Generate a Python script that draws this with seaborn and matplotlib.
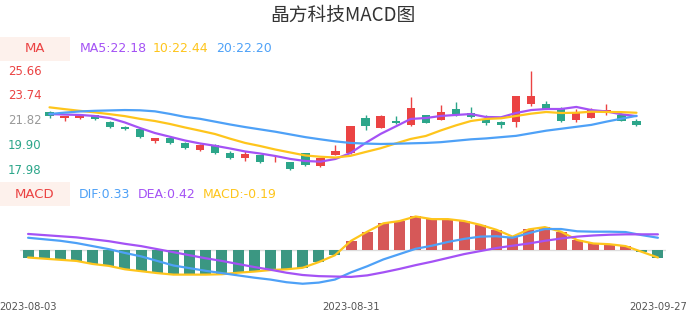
import matplotlib
matplotlib.use("Agg")
import matplotlib.pyplot as plt
import seaborn as sns
import numpy as np
import pandas as pd
from matplotlib.patches import Rectangle

sns.set_theme(style="white")
plt.rcParams['font.family'] = ['DejaVu Sans']

# ---------------- data ----------------
title = "晶方科技MACD图"
tick_idx = [0, 20, 39]
tick_labels = ["2023-08-03", "2023-08-31", "2023-09-27"]

opens = [22.50, 22.01, 22.07, 22.27, 21.75, 21.31, 21.16, 20.27, 20.46, 20.07,
         19.55, 19.94, 19.30, 18.96, 19.14, 18.82, 18.62, 19.30, 18.29, 19.19,
         19.30, 22.03, 21.28, 21.80, 21.47, 22.27, 21.90, 22.76, 22.45, 21.98,
         21.72, 21.72, 23.14, 23.12, 22.76, 21.86, 22.03, 22.40, 22.24, 21.80]
closes = [22.15, 22.19, 22.27, 21.93, 21.31, 21.16, 20.54, 20.46, 20.12, 19.69,
          19.92, 19.30, 18.91, 19.24, 18.62, 18.85, 18.10, 18.41, 18.93, 19.48,
          21.39, 21.41, 22.19, 21.65, 22.81, 21.67, 22.50, 22.37, 22.11, 21.67,
          21.51, 23.72, 23.74, 22.76, 21.80, 22.42, 22.63, 22.65, 21.82, 21.47]
highs = [22.55, 22.22, 22.30, 22.30, 21.78, 21.38, 21.20, 20.48, 20.55, 20.14,
         20.00, 20.00, 19.44, 19.45, 19.17, 19.09, 18.66, 19.35, 18.96, 19.92,
         21.42, 22.30, 22.25, 22.17, 23.69, 22.30, 23.07, 23.27, 22.89, 22.24,
         21.82, 23.76, 25.66, 23.38, 22.89, 22.76, 22.79, 23.12, 22.45, 21.99]
lows = [22.05, 21.83, 21.98, 21.88, 21.28, 21.12, 20.50, 20.07, 19.98, 19.64,
        19.50, 19.26, 18.86, 18.72, 18.58, 18.62, 17.98, 18.33, 18.24, 19.15,
        19.28, 21.13, 21.25, 21.57, 21.41, 21.62, 21.87, 22.22, 22.07, 21.50,
        21.22, 21.36, 22.94, 22.72, 21.76, 21.72, 22.00, 22.30, 21.78, 21.44]

ma5 = [22.34, 22.30, 22.27, 22.19, 22.03, 21.69, 21.26, 20.87, 20.58, 20.29,
       20.06, 19.88, 19.67, 19.44, 19.28, 19.09, 18.86, 18.70, 18.65, 18.86,
       19.32, 20.10, 20.80, 21.38, 21.96, 22.03, 22.19, 22.27, 22.34, 22.11,
       22.09, 22.42, 22.65, 22.73, 22.73, 22.89, 22.65, 22.54, 22.32, 22.18]
ma10 = [22.86, 22.72, 22.59, 22.47, 22.33, 22.18, 21.97, 21.80, 21.57, 21.30,
        21.05, 20.79, 20.43, 20.10, 19.86, 19.59, 19.36, 19.13, 19.03, 18.97,
        19.10, 19.40, 19.69, 20.06, 20.41, 20.64, 21.07, 21.46, 21.80, 21.96,
        22.01, 22.19, 22.37, 22.50, 22.42, 22.44, 22.52, 22.50, 22.49, 22.44]
ma20 = [22.34, 22.45, 22.54, 22.59, 22.62, 22.65, 22.63, 22.55, 22.35, 22.12,
        21.97, 21.75, 21.53, 21.33, 21.15, 20.97, 20.76, 20.55, 20.38, 20.22,
        20.10, 20.05, 20.02, 20.04, 20.07, 20.10, 20.16, 20.27, 20.38, 20.45,
        20.55, 20.65, 20.85, 21.05, 21.20, 21.35, 21.50, 21.75, 21.98, 22.20]

dif = [0.33, 0.29, 0.25, 0.19, 0.11, 0.03, -0.07, -0.16, -0.28, -0.40,
       -0.47, -0.54, -0.60, -0.66, -0.72, -0.77, -0.84, -0.88, -0.85, -0.77,
       -0.58, -0.42, -0.24, -0.10, 0.04, 0.12, 0.22, 0.30, 0.36, 0.37,
       0.33, 0.45, 0.56, 0.56, 0.50, 0.49, 0.49, 0.48, 0.40, 0.33]
dea = [0.43, 0.40, 0.37, 0.34, 0.29, 0.24, 0.17, 0.11, 0.03, -0.05,
       -0.13, -0.21, -0.28, -0.36, -0.44, -0.51, -0.59, -0.65, -0.68, -0.69,
       -0.70, -0.66, -0.58, -0.49, -0.39, -0.30, -0.20, -0.10, -0.02, 0.06,
       0.12, 0.18, 0.25, 0.31, 0.36, 0.39, 0.41, 0.42, 0.42, 0.42]
macd = [-0.19, -0.22, -0.25, -0.28, -0.36, -0.41, -0.50, -0.55, -0.60, -0.64,
        -0.64, -0.64, -0.63, -0.59, -0.56, -0.52, -0.50, -0.46, -0.31, -0.13,
        0.25, 0.49, 0.71, 0.77, 0.89, 0.82, 0.82, 0.77, 0.67, 0.54,
        0.36, 0.55, 0.61, 0.49, 0.27, 0.18, 0.16, 0.11, -0.04, -0.19]

ma_legend = ["MA5:22.18", "10:22.44", "20:22.20"]
macd_legend = ["DIF:0.33", "DEA:0.42", "MACD:-0.19"]
price_ticks = [25.66, 23.74, 21.82, 19.90, 17.98]

# ---------------- style ----------------
RED = "#eb4343"
GREEN = "#2ca68a"
PURPLE = "#a452f5"
YELLOW = "#fec51c"
BLUE = "#4ea1f7"
BOXBG = "#fdf1ec"

W, H = 686, 320
fig = plt.figure(figsize=(W / 100, H / 100), dpi=100)
fig.patch.set_facecolor("white")

def fx(px):
    return px / W

def fy(py):
    return 1 - py / H

n = len(closes)
idx = np.arange(n)
df = pd.DataFrame({"i": idx, "open": opens, "close": closes, "high": highs, "low": lows,
                   "ma5": ma5, "ma10": ma10, "ma20": ma20,
                   "dif": dif, "dea": dea, "macd": macd})

# ---------------- top (price) axes ----------------
top_y0, top_y1 = 65, 175        # pixel rows
pmin, pmax = 17.98, 25.66
ppu = 12.9                      # pixels per price unit
ax = fig.add_axes([fx(42), fy(top_y1), fx(644 - 42), (top_y1 - top_y0) / H])
ax.set_xlim(-0.5, n - 0.5)
ax.set_ylim(pmin - (top_y1 - 170.3) / ppu, pmax + (71.2 - top_y0) / ppu)

up = df["close"] >= df["open"]
colors = np.where(up, RED, GREEN)
body_bottom = np.minimum(df["open"], df["close"])
body_h = np.maximum(np.abs(df["close"] - df["open"]), 0.04)
ax.vlines(df["i"], df["low"], df["high"], colors=colors, linewidth=1.0, zorder=2)
ax.bar(df["i"], body_h, bottom=body_bottom, width=0.55, color=colors, linewidth=0, zorder=3)

sns.lineplot(data=df, x="i", y="ma5", ax=ax, color=PURPLE, linewidth=1.6, zorder=4)
sns.lineplot(data=df, x="i", y="ma10", ax=ax, color=YELLOW, linewidth=1.6, zorder=4)
sns.lineplot(data=df, x="i", y="ma20", ax=ax, color=BLUE, linewidth=1.6, zorder=4)
ax.axis("off")

# ---------------- bottom (MACD) axes ----------------
bot_y0, bot_y1 = 212, 290
zero_px = 250.3
mpu = 38.0
bx = fig.add_axes([fx(20), fy(bot_y1), fx(666 - 20), (bot_y1 - bot_y0) / H])
df["sign"] = np.where(df["macd"] >= 0, "pos", "neg")
sns.barplot(data=df, x="i", y="macd", hue="sign", palette={"pos": RED, "neg": GREEN},
            dodge=False, native_scale=True, width=0.68, legend=False, ax=bx,
            linewidth=0, zorder=3)
bx.axhline(0, color="#dddddd", linewidth=1.0, zorder=1)
sns.lineplot(data=df, x="i", y="macd", ax=bx, color=YELLOW, linewidth=1.6, zorder=4)
sns.lineplot(data=df, x="i", y="dif", ax=bx, color=BLUE, linewidth=1.6, zorder=4)
sns.lineplot(data=df, x="i", y="dea", ax=bx, color=PURPLE, linewidth=1.6, zorder=4)
bx.set_xlim(-0.5, n - 0.5)
bx.set_ylim(-(bot_y1 - zero_px) / mpu, (zero_px - bot_y0) / mpu)
bx.axis("off")

# ---------------- texts ----------------
fig.text(0.5, fy(15), title, ha="center", va="center", fontsize=13.5, color="#333333",
         family=["Noto Sans CJK SC", "DejaVu Sans"])

# MA header
fig.patches.append(Rectangle((0, fy(61)), fx(70), 24 / H, transform=fig.transFigure,
                             facecolor=BOXBG, edgecolor="none", zorder=0))
fig.text(fx(35), fy(49), "MA", ha="center", va="center", fontsize=9.5, color=RED)
for x, t, c in zip([80, 153, 216], ma_legend, [PURPLE, YELLOW, BLUE]):
    fig.text(fx(x), fy(49), t, ha="left", va="center", fontsize=9, color=c)

# MACD header
fig.patches.append(Rectangle((0, fy(206)), fx(70), 24 / H, transform=fig.transFigure,
                             facecolor=BOXBG, edgecolor="none", zorder=0))
fig.text(fx(35), fy(194), "MACD", ha="center", va="center", fontsize=9.5, color=RED)
for x, t, c in zip([79, 138, 203], macd_legend, [BLUE, PURPLE, YELLOW]):
    fig.text(fx(x), fy(194), t, ha="left", va="center", fontsize=9, color=c)

# price labels
mid = price_ticks[2]
for v in price_ticks:
    col = RED if v > mid + 1e-9 else (GREEN if v < mid - 1e-9 else "#999999")
    ypx = 170.3 - (v - pmin) * ppu
    fig.text(fx(8), fy(ypx), f"{v:.2f}", ha="left", va="center", fontsize=8.5, color=col)

# date labels
for i, lab in zip(tick_idx, tick_labels):
    xpx = 20 + (i + 0.5) * (666 - 20) / n
    fig.text(fx(xpx), fy(307), lab, ha="center", va="center", fontsize=7.2, color="#555555")

fig.savefig("out.png", dpi=100, facecolor="white")
